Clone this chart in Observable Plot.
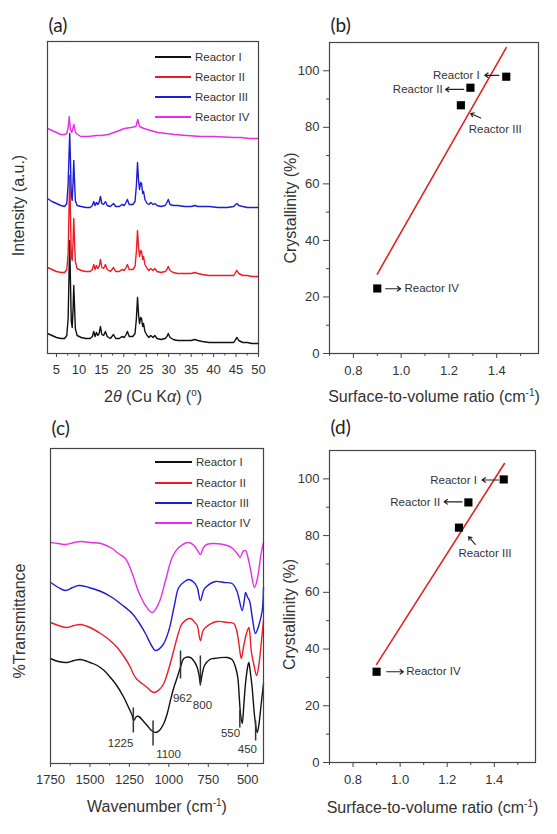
<!DOCTYPE html>
<html><head><meta charset="utf-8">
<script src="https://cdn.jsdelivr.net/npm/d3@7"></script>
<script src="https://cdn.jsdelivr.net/npm/@observablehq/plot@0.6"></script>
<style>
body{margin:0;background:#fff;}
#fig{position:relative;width:557px;height:834px;overflow:hidden;font-family:"Liberation Sans",Arial,sans-serif;}
.panel{position:absolute;}
#legend{position:absolute;left:0;top:0;pointer-events:none;}
</style></head><body><div id="fig"></div>
<script>
// ---------- shared ----------
const reactors = ["Reactor I", "Reactor II", "Reactor III", "Reactor IV"];
const colors = ["#111111", "#ec1c24", "#1c1cd2", "#e62ee6"];

// ---------- (a) XRD: [2theta, intensity (a.u.)] ----------
const xrdI = [[3,20],[4,18],[5,16],[6,15],[6.8,15],[7.3,18],[7.6,35],[7.8,80],[7.95,113],[8.1,75],[8.3,32],[8.5,26],[8.7,45],[8.85,68],[9.0,50],[9.2,25],[9.6,18],[10.5,16],[11.5,15],[12.5,15],[13,17],[13.3,22],[13.6,17],[13.9,21],[14.2,18],[14.5,20],[14.8,27],[15.1,19],[15.5,18],[15.9,22],[16.3,17],[17,15],[17.7,19],[18.2,15],[19,15],[19.6,17],[20.1,16],[20.5,19],[20.8,22],[21.2,17],[22,17],[22.5,20],[22.8,35],[23.05,56],[23.3,38],[23.5,30],[23.75,36],[23.95,35],[24.2,27],[24.4,30],[24.7,22],[25.2,18],[25.6,16],[26,18],[26.5,16],[26.9,18],[27.4,15],[28.3,14],[29.2,15],[29.6,17],[29.9,20],[30.3,16],[31,14],[32,13],[33.5,13],[35,13],[35.8,14],[36.5,13],[37.5,12],[39,11],[41,11],[43,11],[44.5,11],[44.9,14],[45.2,16],[45.6,13],[46.5,11],[47.5,11],[48.5,10],[50,10]];
const xrdII = [[3,86],[4,84],[5,82],[6,81],[6.8,81],[7.3,84],[7.6,100],[7.8,145],[7.95,178],[8.1,140],[8.3,98],[8.5,93],[8.7,112],[8.85,135],[9.0,116],[9.2,92],[9.6,85],[10.5,83],[11.5,82],[12.5,82],[13,84],[13.3,89],[13.6,84],[13.9,88],[14.2,85],[14.5,87],[14.8,94],[15.1,86],[15.5,85],[15.9,89],[16.3,84],[17,82],[17.7,86],[18.2,82],[19,82],[19.6,84],[20.1,83],[20.5,86],[20.8,89],[21.2,84],[22,84],[22.5,87],[22.8,102],[23.05,123],[23.3,105],[23.5,97],[23.75,103],[23.95,102],[24.2,94],[24.4,97],[24.7,89],[25.2,85],[25.6,83],[26,85],[26.5,83],[26.9,85],[27.4,82],[28.3,81],[29.2,82],[29.6,84],[29.9,87],[30.3,83],[31,81],[32,80],[33.5,80],[35,80],[35.8,81],[36.5,80],[37.5,79],[39,78],[41,78],[43,78],[44.5,78],[44.9,81],[45.2,83],[45.6,80],[46.5,78],[47.5,78],[48.5,77],[50,77]];
const xrdIII = [[3,155],[4,152],[5,150],[6,148],[6.8,147],[7.3,150],[7.6,170],[7.8,200],[7.95,220],[8.1,195],[8.3,158],[8.5,153],[8.7,172],[8.85,193],[9.0,175],[9.2,153],[9.6,148],[10.5,147],[11.5,146],[12.5,146],[13,148],[13.3,152],[13.6,148],[13.9,151],[14.2,149],[14.5,151],[14.8,157],[15.1,150],[15.5,149],[15.9,152],[16.3,148],[17,147],[17.7,150],[18.2,147],[19,147],[19.6,149],[20.1,148],[20.5,151],[20.8,154],[21.2,149],[22,149],[22.5,152],[22.8,168],[23.05,191],[23.3,172],[23.5,164],[23.75,171],[23.95,170],[24.2,160],[24.4,162],[24.7,154],[25.2,150],[25.6,149],[26,151],[26.5,149],[26.9,150],[27.4,148],[28.3,147],[29.2,148],[29.6,151],[29.9,154],[30.3,149],[31,148],[32,148],[33.5,147],[35,147],[35.8,148],[36.5,147],[37.5,147],[39,147],[41,146],[43,146],[44.5,147],[44.9,149],[45.2,150],[45.6,148],[46.5,147],[47.5,146],[48.5,146],[50,146]];
const xrdIV = [[3,225],[4,223],[5,221],[6,219],[6.8,219],[7.3,220],[7.6,226],[7.85,237],[8.1,224],[8.4,221],[8.7,226],[8.9,229],[9.1,223],[9.4,220],[10.4,217],[12,217],[14,218],[15,218],[16.5,219],[17.8,221],[19,223],[20.1,225],[21.6,226],[22.7,227],[23.1,234],[23.5,227],[24.5,225],[26,223],[27.5,221],[29.5,220],[31.3,219],[34,218],[37.2,217],[40,217],[44.6,216],[46,216],[48,215],[50,215]];
const xrdTicks = [5,10,15,20,25,30,35,40,45,50];
const xrdMinor = [7.5,12.5,17.5,22.5,27.5,32.5,37.5,42.5,47.5];

// ---------- (c) FTIR: [wavenumber, %T (a.u.)] ----------
const irI = [[1750,105],[1700,102],[1644,101],[1600,103],[1560,104],[1500,101],[1454,98],[1410,93],[1370,86],[1330,78],[1285,66],[1255,56],[1232,48],[1222,43],[1205,47],[1190,47],[1160,42],[1137,38],[1110,33],[1085,31],[1060,33],[1032,40],[1010,50],[990,63],[970,75],[947,86],[925,97],[905,105],[863,106],[835,101],[820,96],[808,88],[800,80],[790,88],[774,98],[740,104],[715,105],[630,106],[600,104],[588,101],[575,95],[563,86],[553,65],[546,50],[535,40],[525,58],[514,80],[500,97],[493,101],[484,92],[472,76],[455,45],[440,31],[430,38],[419,53],[410,66],[400,80]];
const irII = [[1750,141],[1700,138],[1644,136],[1600,138],[1560,139],[1500,136],[1433,130],[1380,124],[1327,116],[1280,106],[1243,96],[1220,88],[1201,84],[1170,80],[1137,76],[1095,71],[1060,74],[1032,80],[1000,95],[969,113],[940,130],[915,140],[863,145],[835,141],[820,138],[800,123],[785,132],[768,136],[694,142],[630,141],[588,140],[570,133],[556,120],[541,105],[525,118],[508,130],[493,136],[485,128],[478,113],[460,98],[444,88],[430,98],[419,113],[400,143]];
const irIII = [[1750,181],[1739,180],[1700,176],[1655,173],[1610,176],[1571,178],[1507,176],[1430,172],[1359,166],[1300,159],[1232,150],[1190,141],[1148,130],[1110,118],[1085,113],[1040,118],[1000,133],[965,158],[937,176],[900,182],[874,184],[840,181],[820,176],[800,163],[780,173],[768,176],[704,182],[650,181],[599,180],[570,173],[557,166],[535,153],[520,165],[514,171],[500,166],[489,163],[470,145],[451,130],[430,138],[408,153],[400,176]];
const irIV = [[1750,221],[1700,220],[1655,219],[1600,221],[1560,222],[1500,221],[1430,220],[1359,215],[1320,210],[1275,205],[1232,190],[1190,171],[1148,158],[1105,151],[1064,160],[1021,183],[979,206],[937,216],[874,221],[840,218],[818,213],[800,209],[780,216],[760,219],[715,220],[630,218],[595,215],[567,210],[548,206],[530,212],[514,213],[500,207],[480,192],[457,176],[440,184],[430,193],[415,210],[400,221]];
const irTicks = [1750,1500,1250,1000,750,500];
const irMinor = [1625,1375,1125,875,625];
// band markers
const bandLabel = ["1225","1100","962","800","550","450"];
const bandWn    = [1225, 1100, 926, 800, 550, 450];
const bandTop   = [56, 43, 113, 108, 53, 43];
const bandBot   = [31, 18, 85, 78, 36, 23];
const bandTextWn = [1306, 1002, 913, 787, 609, 502];
const bandTextV  = [20, 9, 65, 58, 30, 14];

// ---------- (b),(d) crystallinity vs surface-to-volume ratio ----------
const svRatio = [1.44, 1.29, 1.25, 0.90];
const crystB = [97.9, 94.0, 87.8, 23.0];
const crystD = [99.8, 91.7, 82.8, 32.0];
const fitBx = [0.90, 1.44], fitBy = [28.1, 108.2];
const fitDx = [0.90, 1.443], fitDy = [34.6, 105.4];
const svTicks = [0.8, 1.0, 1.2, 1.4];
const svMinor = [0.7, 0.9, 1.1, 1.3, 1.5];
const crTicks = [0, 20, 40, 60, 80, 100];
const crMinor = [10, 30, 50, 70, 90];
// annotations (data units)
const annAnchor = ["end", "end", "start", "start"];
const annBx = [1.329, 1.174, 1.283, 1.014], annBy = [98.4, 93.4, 79.3, 22.9];
const arrB_x1 = [1.409, 1.262, 1.333, 0.935], arrB_y1 = [98.4, 93.4, 83.3, 22.9];
const arrB_x2 = [1.350, 1.186, 1.291, 0.998], arrB_y2 = [98.4, 93.4, 84.9, 22.9];
const annDx = [1.326, 1.170, 1.248, 1.026], annDy = [99.6, 91.9, 73.6, 32.0];
const arrD_x1 = [1.418, 1.263, 1.319, 0.943], arrD_y1 = [99.6, 91.9, 76.9, 32.0];
const arrD_x2 = [1.348, 1.187, 1.291, 1.014], arrD_y2 = [99.6, 91.9, 79.6, 32.0];

// ---------- helpers ----------
const fig = document.getElementById("fig");
const FONT = '"Liberation Sans", Arial, sans-serif';
const baseStyle = {fontFamily: FONT, fontSize: "13px", color: "#333", background: "transparent", overflow: "visible"};
function place(svg, left, top) {
  const d = document.createElement("div");
  d.className = "panel"; d.style.left = left + "px"; d.style.top = top + "px";
  d.appendChild(svg); fig.appendChild(d);
}
const seriesRows = (list) => list.flatMap((s, i) => s.map(([x, y]) => ({x, y, r: reactors[i]})));
function rich(svg, plain, parts) {
  d3.select(svg).selectAll("text").filter(function() { return this.textContent === plain; })
    .each(function() {
      const t = d3.select(this); t.text(null);
      for (const p of parts) {
        const s = t.append("tspan").text(p.t);
        if (p.italic) s.attr("font-style", "italic");
        if (p.size) s.attr("font-size", p.size);
        if (p.dy) s.attr("dy", p.dy);
      }
    });
}
const supParts = (pre) => [{t: pre}, {t: "-1", size: 10, dy: -6}, {t: ")", dy: 6}];
const frameM = () => Plot.frame({stroke: "#444", strokeWidth: 1.2});
const xTitle = (t, dy) => Plot.text([t], {frameAnchor: "bottom", textAnchor: "middle", lineAnchor: "middle", dy, fontSize: 16, fill: "#333"});
const yTitle = (t, dx, dy) => Plot.text([t], {frameAnchor: "left", textAnchor: "middle", lineAnchor: "middle", rotate: -90, dx, dy, fontSize: 16, fill: "#333"});
const panelLabel = (t, dy) => Plot.text([t], {frameAnchor: "top-left", textAnchor: "start", lineAnchor: "middle", dy, dx: 1, fontSize: 19, fontFamily: "Lato", fill: "#222"});
const intFmt = d3.format("d");

// ---------- (a) ----------
const svgA = Plot.plot({
  width: 278, height: 410, marginLeft: 47, marginRight: 20, marginTop: 41, marginBottom: 57,
  style: baseStyle,
  x: {domain: [3, 50]}, y: {domain: [0, 312], axis: null},
  color: {domain: reactors, range: colors},
  marks: [
    Plot.line(seriesRows([xrdI, xrdII, xrdIII, xrdIV]), {x: "x", y: "y", z: "r", stroke: "r", strokeWidth: 1.4}),
    frameM(),
    Plot.axisX(xrdTicks, {tickSize: 4, tickPadding: 7, tickFormat: intFmt, label: null, stroke: "#444"}),
    Plot.axisX(xrdMinor, {tickSize: 2.5, tickFormat: () => "", label: null, stroke: "#444"}),
    xTitle("2θ (Cu Kα) (°)", 43),
    yTitle("Intensity (a.u.)", -29, 8),
    panelLabel("(a)", -16)
  ]
});
rich(svgA, "2θ (Cu Kα) (°)", [{t: "2"}, {t: "θ", italic: true}, {t: " (Cu K"}, {t: "α", italic: true}, {t: ") ("}, {t: "o", size: 10, dy: -6}, {t: ")", dy: 6}]);
place(svgA, 0, 0);

// ---------- (b) & (d) ----------
function crystPanel(cryst, fx, fy, annX, annY, ax1, ay1, ax2, ay2, label, m) {
  const idx = d3.range(reactors.length);
  const svg = Plot.plot({
    width: 277, height: m.h, marginLeft: 49, marginRight: m.r, marginTop: m.t, marginBottom: m.b,
    style: baseStyle,
    x: {domain: [0.7, 1.575]}, y: {domain: [0, 110]},
    marks: [
      Plot.line(d3.range(fx.length), {x: i => fx[i], y: i => fy[i], stroke: "#e02424", strokeWidth: 1.6}),
      Plot.dot(idx, {x: i => svRatio[i], y: i => cryst[i], symbol: "square", r: 4.6, fill: "#000"}),
      Plot.arrow(idx, {x1: i => ax1[i], y1: i => ay1[i], x2: i => ax2[i], y2: i => ay2[i], stroke: "#222", strokeWidth: 1.2, headLength: 5, headAngle: 70}),
      Plot.text(idx, {filter: i => annAnchor[i] === "end", x: i => annX[i], y: i => annY[i], text: i => reactors[i], textAnchor: "end", fontSize: 11.5, fill: "#333"}),
      Plot.text(idx, {filter: i => annAnchor[i] === "start", x: i => annX[i], y: i => annY[i], text: i => reactors[i], textAnchor: "start", fontSize: 11.5, fill: "#333"}),
      frameM(),
      Plot.axisX(svTicks, {tickSize: 5, tickPadding: 7, tickFormat: d3.format(".1f"), label: null, stroke: "#444"}),
      Plot.axisX(svMinor, {tickSize: 3, tickFormat: () => "", label: null, stroke: "#444"}),
      Plot.axisY(crTicks, {tickSize: 6, tickPadding: 4, tickFormat: intFmt, label: null, stroke: "#444"}),
      Plot.axisY(crMinor, {tickSize: 3, tickFormat: () => "", label: null, stroke: "#444"}),
      xTitle("Surface-to-volume ratio (cm-1)", m.xt),
      yTitle("Crystallinity (%)", m.ydx, m.ydy),
      panelLabel(label, m.pl)
    ]
  });
  rich(svg, "Surface-to-volume ratio (cm-1)", supParts("Surface-to-volume ratio (cm"));
  return svg;
}
place(crystPanel(crystB, fitBx, fitBy, annBx, annBy, arrB_x1, arrB_y1, arrB_x2, arrB_y2, "(b)",
  {h: 410, r: 19, t: 42, b: 57, xt: 43, ydx: -39, ydy: 10, pl: -17}), 280, 0);

// ---------- (c) ----------
const bi = d3.range(bandLabel.length);
const svgC = Plot.plot({
  width: 278, height: 434, marginLeft: 50, marginRight: 15, marginTop: 48, marginBottom: 71,
  style: baseStyle,
  x: {domain: [1750, 400]}, y: {domain: [0, 315], axis: null},
  color: {domain: reactors, range: colors},
  marks: [
    Plot.line(seriesRows([irI, irII, irIII, irIV]), {x: "x", y: "y", z: "r", stroke: "r", strokeWidth: 1.4, curve: "catmull-rom"}),
    Plot.link(bi, {x1: i => bandWn[i], x2: i => bandWn[i], y1: i => bandTop[i], y2: i => bandBot[i], stroke: "#333", strokeWidth: 1.5}),
    Plot.text(bi, {x: i => bandTextWn[i], y: i => bandTextV[i], text: i => bandLabel[i], fontSize: 11.5, fill: "#333"}),
    frameM(),
    Plot.axisX(irTicks, {tickSize: 4, tickPadding: 7, tickFormat: intFmt, label: null, stroke: "#444"}),
    Plot.axisX(irMinor, {tickSize: 2.5, tickFormat: () => "", label: null, stroke: "#444"}),
    xTitle("Wavenumber (cm-1)", 43),
    yTitle("%Transmittance", -31, 15),
    panelLabel("(c)", -20)
  ]
});
rich(svgC, "Wavenumber (cm-1)", supParts("Wavenumber (cm"));
place(svgC, 0, 400);

// ---------- (d) ----------
place(crystPanel(crystD, fitDx, fitDy, annDx, annDy, arrD_x1, arrD_y1, arrD_x2, arrD_y2, "(d)",
  {h: 434, r: 22, t: 50, b: 72, xt: 45, ydx: -40, ydy: 8, pl: -23}), 280, 400);

// ---------- legends (a) and (c) ----------
const leg = d3.select(fig).append("svg").attr("id", "legend").attr("width", 557).attr("height", 834);
function legend(x0, x1, tx, rows) {
  reactors.forEach((name, i) => {
    leg.append("line").attr("x1", x0).attr("x2", x1).attr("y1", rows[i]).attr("y2", rows[i])
      .attr("stroke", colors[i]).attr("stroke-width", 2);
    leg.append("text").attr("x", tx).attr("y", rows[i]).attr("dy", "0.35em")
      .attr("font-family", FONT).attr("font-size", 11.5).attr("fill", "#333").text(name);
  });
}
legend(155, 191, 195, [57, 77, 97, 117]);
legend(155, 192, 196, [462, 483, 503, 523]);
</script></body></html>
